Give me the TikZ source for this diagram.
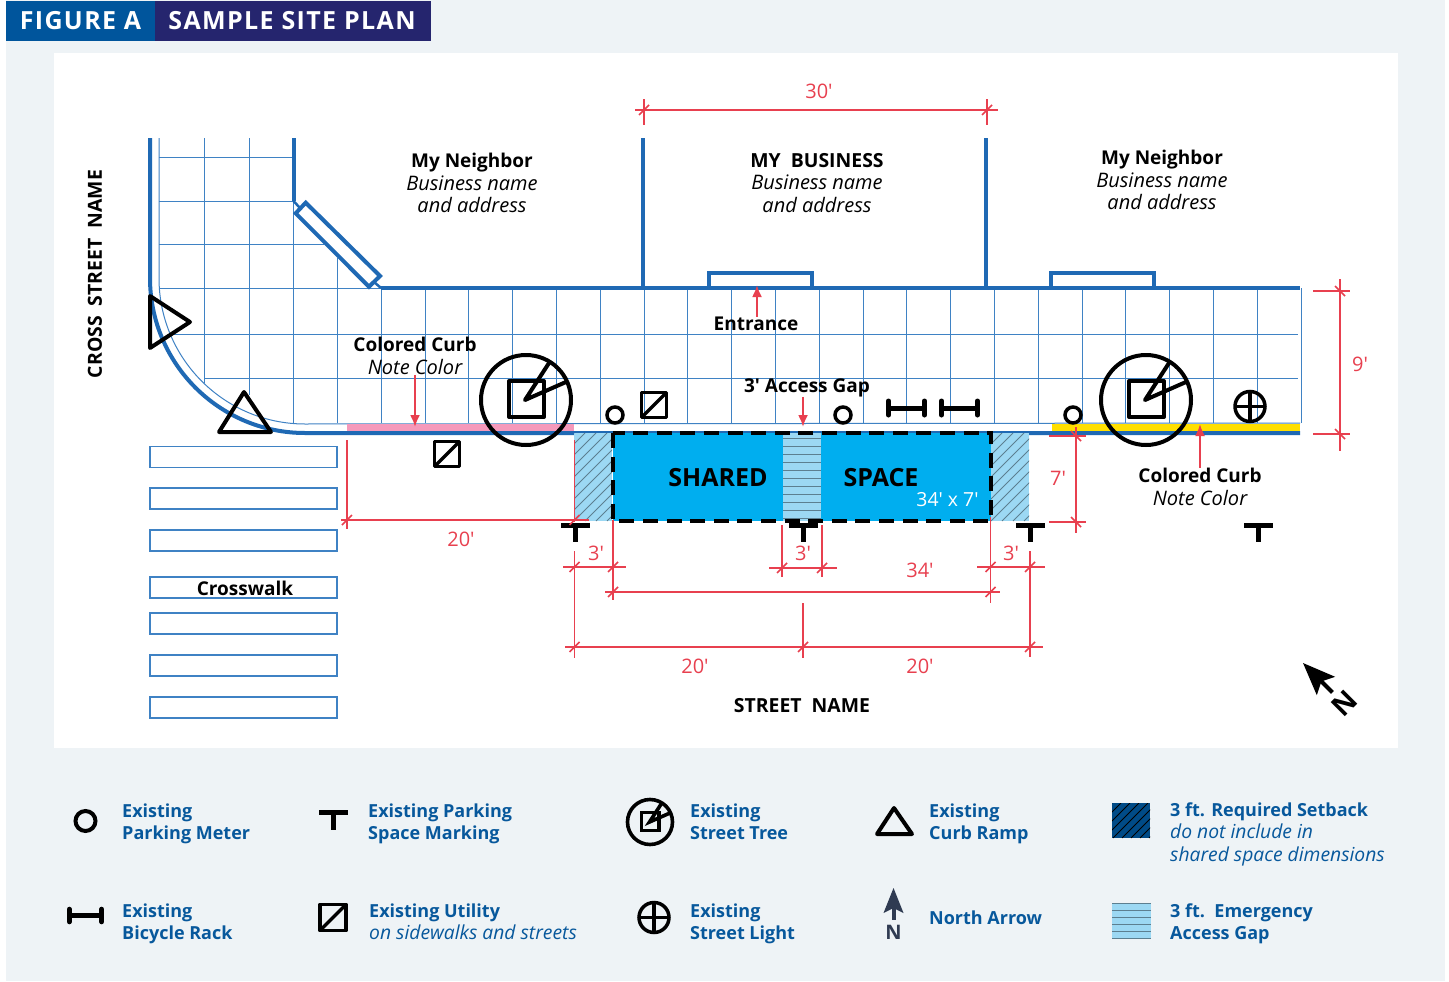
\documentclass[tikz,border=0pt]{standalone}
\usepackage{fontspec}
\setmainfont{Open Sans}
\usetikzlibrary{calc, positioning, arrows.meta}

\definecolor{panelgrey}{HTML}{EEF3F6}
\definecolor{headblue}{HTML}{00559C}
\definecolor{headnavy}{HTML}{25256E}
\definecolor{wallblue}{HTML}{1F69B4}
\definecolor{gridblue}{HTML}{3F82C4}
\definecolor{legendblue}{HTML}{07589C}
\definecolor{dimred}{HTML}{E8404F}
\definecolor{sharedblue}{HTML}{00AEEF}
\definecolor{gapblue}{HTML}{9CD8F3}
\definecolor{setbackblue}{HTML}{004B87}
\definecolor{hatchgrey}{HTML}{5C7F90}
\definecolor{curbpink}{HTML}{F599BB}
\definecolor{curbyellow}{HTML}{FFDF00}
\definecolor{arrowslate}{HTML}{2F3B52}

\newcommand{\planit}[1]{{\fontsize{20}{22.5}\itshape\selectfont #1}}
\newcommand{\legendit}[1]{{\fontsize{19.3}{22.3}\itshape\selectfont #1}}
\newcommand{\capsbf}[1]{{\fontsize{19.4}{22.5}\bfseries\selectfont #1}}

\tikzset{
	lbl/.style={inner sep=0, align=center, font=\fontsize{19}{22.5}\selectfont},
	headlbl/.style={inner sep=0, text=white, font=\fontsize{25}{28}\bfseries\selectfont\addfontfeature{LetterSpace=5.5}},
	legendlbl/.style={inner sep=0, anchor=west, align=left, text depth=5pt, text=legendblue, font=\fontsize{18}{22.3}\selectfont},
	dimlbl/.style={inner sep=0, text=dimred, font=\fontsize{20}{22}\selectfont},
	gridline/.style={draw=gridblue, line width=1},
	wall/.style={draw=wallblue, line width=4},
	zebra/.style={draw=gridblue, line width=1.2, fill=white},
	dimline/.style={draw=dimred, line width=1.6},
	notearrow/.style={draw=dimred, line width=2.2, -{Latex[length=12pt,width=10pt]}},
	hatchline/.style={draw=hatchgrey, line width=1},
	symb/.style={line width=4, line join=round},
	pics/treemark/.style={code={
		\draw (0,0) circle [radius=45];
		\draw (-17,-19) rectangle (18,17);
		\draw (23,-37) -- (-1,0) -- (40,-18);
	}},
	pics/metermark/.style={code={\draw (0,0) circle [radius=8];}},
	pics/tmark/.style={code={
		\fill (-14.5,-2.5) rectangle (14.5,2.5);
		\fill (-2.5,0) rectangle (2.5,17);
	}},
	pics/rackmark/.style={code={
		\draw[line cap=round] (-18,-7) -- (-18,7);
		\draw[line cap=round] (18,-7) -- (18,7);
		\draw (-18,0) -- (18,0);
	}},
	pics/utilitymark/.style={code={
		\draw (-12.5,-12.5) rectangle (12.5,12.5);
		\draw (-12.5,12.5) -- (12.5,-12.5);
	}},
	pics/lightmark/.style={code={
		\draw (0,0) circle [radius=15];
		\draw (-15,0) -- (15,0);
		\draw (0,-15) -- (0,15);
	}},
	pics/northmark/.style={code={
		\fill (0,0) -- (10,25) -- (0,20) -- (-10,25) -- cycle;
		\draw[line width=4] (0,18) -- (0,32);
	}},
}

\begin{document}
\begin{tikzpicture}[x=1pt, y=-1pt]
	\useasboundingbox (0,0) rectangle (1449,982);

	% panels %
	\fill[panelgrey] (6,0) rectangle (1445,981);
	\fill[white] (54,53) rectangle (1398,748);
	\fill[headblue] (6,1) rectangle (155,41);
	\fill[headnavy] (155,1) rectangle (431,41);
	\node[headlbl] (figtag) at (80.5,21) {FIGURE A};
	\node[headlbl] (figtitle) at (292,21) {SAMPLE SITE PLAN};

	% grid %
	\foreach \gy/\xa/\xb in {157/159/293, 201/159/293, 244.5/159/324, 288.5/159/381, 334/170/1298, 378/204/1298}
		\draw[gridline] (\xa,\gy) -- (\xb,\gy);
	\draw[gridline] (159,138) -- (159,278) .. controls (159,358.6) and (224.4,424) .. (305,424) -- (1300,423);
	\draw[gridline] (204,138) -- (204,383);
	\draw[gridline] (249,138) -- (249,395);
	\draw[gridline] (293,201) -- (293,423);
	\draw[gridline] (337.5,258) -- (337.5,423);
	\foreach \n in {1,...,22} {
		\pgfmathsetmacro{\gx}{337.5+43.8*\n}
		\draw[gridline] (\gx,288) -- (\gx,423);
	}

	% curb colors %
	\fill[curbpink] (347,424) rectangle (574,431);
	\fill[curbyellow] (1052,424) rectangle (1300,431);

	% walls %
	\draw[wall] (150,138) -- (150,278) .. controls (150,363.6) and (219.4,433) .. (305,433) -- (1300,433);
	\draw[wall] (293.5,138) -- (293.5,201);
	\draw[wall] (381,288) -- (1300,288);
	\draw[wall] (643,138) -- (643,288);
	\draw[wall] (986,138) -- (986,288);
	\draw[wall] (709,288) |- (812,273) -- (812,288);
	\draw[wall] (1051,288) |- (1154,273) -- (1154,288);
	\draw[draw=wallblue, line width=2.5] (293.5,201) -- (300,208);
	\draw[draw=wallblue, line width=2.5] (374,282) -- (381,288);
	\draw[wall, fill=white] (305.7,202.7) -- (380,276) -- (369,286.7) -- (295.7,213.3) -- cycle;

	% crosswalk %
	\foreach \zy in {446.5,488,530,577,613,655,697}
		\draw[zebra] (150,\zy) rectangle (337,\zy+21);

	% shared space %
	\fill[sharedblue] (613,433) rectangle (991,521);
	\foreach \hx in {574,991} {
		\begin{scope}
			\clip (\hx,433) rectangle ++(38,88);
			\fill[gapblue] (\hx,433) rectangle ++(38,88);
			\foreach \d in {-88,-77,...,44}
				\draw[hatchline] (\hx+\d,521) -- ++(88,-88);
		\end{scope}
	}
	\fill[gapblue] (783,433) rectangle (821,521);
	\foreach \ly in {438,446,...,518}
		\draw[hatchline] (783,\ly) -- (821,\ly);
	\draw[line width=4, dash pattern=on 15 off 8.6] (613,433) rectangle (991,521);

	% symbols %
	\pic[symb] at (526,400) {treemark};
	\pic[symb] at (1146,400) {treemark};
	\foreach \mx in {615,843,1073}
		\pic[line width=3.5] at (\mx,415) {metermark};
	\foreach \tx in {575,803,1030,1258}
		\pic at (\tx,525) {tmark};
	\pic[line width=5] at (906.5,408) {rackmark};
	\pic[line width=5] at (959.5,408) {rackmark};
	\pic[line width=3.5, line join=round] at (654,405) {utilitymark};
	\pic[line width=3.5, line join=round] at (447,454) {utilitymark};
	\pic[line width=3.5] at (1250,406.5) {lightmark};
	\draw[symb] (150,296) -- (150,348) -- (190,322) -- cycle;
	\draw[symb] (244,392) -- (219,432) -- (271,432) -- cycle;
	\pic[rotate=45, scale=1.3] at (1303,663) {northmark};
	\node[inner sep=0, rotate=45, font=\fontsize{28}{30}\bfseries\selectfont] (northplan) at (1344,703) {N};

	% dimensions %
	\foreach \xa/\ya/\xb/\yb in {
		635/110/998/110, 644/99/644/125, 987/99/987/125,
		1313/291/1350/291, 1313/434/1350/434, 1340/279/1340/451,
		1049/436/1086/436, 1049/522/1086/522, 1076/427/1076/533,
		341/520/589/520, 347/440/347/529, 574.5/440/574.5/522,
		563/567/626/567, 574.5/551/574.5/658, 613/520/613/600,
		605/592/1000/592, 990.5/517/990.5/603,
		769/568/837/568, 782/525/782/577, 822/525/822/577,
		977/567/1045/567, 1030/551/1030/657,
		565/647/1043/647, 803/603/803/658}
		\draw[dimline] (\xa,\ya) -- (\xb,\yb);
	\foreach \tx/\ty in {644/110, 987/110, 347/520, 574.5/520, 574.5/567, 613/567, 782/568, 822/568,
		990.5/567, 1030/567, 613/592, 990.5/592, 574.5/647, 803/647, 1030/647}
		\draw[dimline] (\tx-5,\ty+5) -- (\tx+5,\ty-5);
	\foreach \tx/\ty in {1340/291, 1340/434, 1076/436, 1076/522}
		\draw[dimline] (\tx-5,\ty-5) -- (\tx+5,\ty+5);

	\node[dimlbl] (dimtop) at (819,91) {30′};
	\node[dimlbl] (dimnine) at (1360,364) {9′};
	\node[dimlbl] (dimseven) at (1058,478) {7′};
	\node[dimlbl] (dimcorner) at (461,539) {20′};
	\node[dimlbl] (dimleft) at (596,553) {3′};
	\node[dimlbl] (dimgap) at (803,553) {3′};
	\node[dimlbl] (dimright) at (1011,553) {3′};
	\node[dimlbl] (dimspace) at (920,570) {34′};
	\node[dimlbl] (dimhalfa) at (695,666) {20′};
	\node[dimlbl] (dimhalfb) at (920,666) {20′};

	% plan labels %
	\node[lbl] (neighbora) at (472,183) {\textbf{My Neighbor}\\\planit{Business name}\\\planit{and address}};
	\node[lbl] (business) at (817,183) {\capsbf{MY\ \ BUSINESS}\\\planit{Business name}\\\planit{and address}};
	\node[lbl] (neighborb) at (1162,180) {\textbf{My Neighbor}\\\planit{Business name}\\\planit{and address}};
	\node[lbl, rotate=90] (crossstreet) at (95,274) {\capsbf{CROSS\ \ STREET\ \ NAME}};
	\node[lbl] (entrance) at (756,324) {\textbf{Entrance}};
	\node[lbl] (curbnotea) at (415,356) {\textbf{Colored Curb}\\\planit{Note Color}};
	\node[lbl] (accessgap) at (807,387.5) {\textbf{3′ Access Gap}};
	\node[lbl] (curbnoteb) at (1200,487) {\textbf{Colored Curb}\\\planit{Note Color}};
	\node[lbl] (crosswalk) at (245,588) {\textbf{Crosswalk}};
	\node[lbl] (street) at (802,706) {\capsbf{STREET\ \ NAME}};
	\node[inner sep=0, font=\fontsize{25}{28}\bfseries\selectfont] (shared) at (718,478) {SHARED};
	\node[inner sep=0, font=\fontsize{25}{28}\bfseries\selectfont] (space) at (881,478) {SPACE};
	\node[inner sep=0, text=white, font=\fontsize{19.4}{22}\selectfont] (spacesize) at (947.5,500) {34′ x 7′};

	% note arrows %
	\coordinate (entrancetip) at (757,285);
	\coordinate (curbtipa) at (415,427);
	\coordinate (gaptip) at (803,427);
	\coordinate (curbtipb) at (1200,424);
	\draw[notearrow] (entrance.north -| entrancetip) -- (entrancetip);
	\draw[notearrow] (curbnotea.south) -- (curbtipa);
	\draw[notearrow] (accessgap.south -| gaptip) -- (gaptip);
	\draw[notearrow] (curbnoteb.north) -- (curbtipb);

	% legend %
	\pic[line width=4, scale=1.25] at (85.5,821) {metermark};
	\pic at (333,812.5) {tmark};
	\pic[line width=3.6, scale=.5] at (650,822) {treemark};
	\draw[symb] (894,808) -- (877,834) -- (912,834) -- cycle;
	\fill[setbackblue] (1112,803) rectangle (1150,838);
	\begin{scope}
		\clip (1112,803) rectangle (1150,838);
		\foreach \d in {-35,-26,...,38}
			\draw[draw=black, line width=1] (1112+\d,838) -- ++(35,-35);
	\end{scope}
	\pic[line width=5, scale=.9] at (85.5,915.5) {rackmark};
	\pic[line width=3.5, line join=round, scale=1.05] at (333,917.5) {utilitymark};
	\pic[line width=3.5] at (654,917.5) {lightmark};
	\pic[arrowslate, scale=1] at (893.5,888) {northmark};
	\node[inner sep=0, text=arrowslate, font=\fontsize{20}{24}\bfseries\selectfont] (northlegend) at (893.5,932) {N};
	\fill[gapblue] (1112,903) rectangle (1151,938);
	\foreach \ly in {903,910,...,938}
		\draw[hatchline] (1112,\ly) -- (1151,\ly);

	\node[legendlbl] (meterlbl) at (122,824) {\textbf{Existing}\\\textbf{Parking Meter}};
	\node[legendlbl] (marklbl) at (368,824) {\textbf{Existing Parking}\\\textbf{Space Marking}};
	\node[legendlbl] (treelbl) at (690,824) {\textbf{Existing}\\\textbf{Street Tree}};
	\node[legendlbl] (ramplbl) at (929,824) {\textbf{Existing}\\\textbf{Curb Ramp}};
	\node[legendlbl] (setbacklbl) at (1170,834.5) {\textbf{3 ft. Required Setback}\\\legendit{do not include in}\\\legendit{shared space dimensions}};
	\node[legendlbl] (racklbl) at (122,924) {\textbf{Existing}\\\textbf{Bicycle Rack}};
	\node[legendlbl] (utilitylbl) at (369,924) {\textbf{Existing Utility}\\\legendit{on sidewalks and streets}};
	\node[legendlbl] (lightlbl) at (690,924) {\textbf{Existing}\\\textbf{Street Light}};
	\node[legendlbl] (northlbl) at (929,920) {\textbf{North Arrow}};
	\node[legendlbl] (gaplbl) at (1170,924) {\textbf{3 ft.\ \ Emergency}\\\textbf{Access Gap}};
\end{tikzpicture}
\end{document}
